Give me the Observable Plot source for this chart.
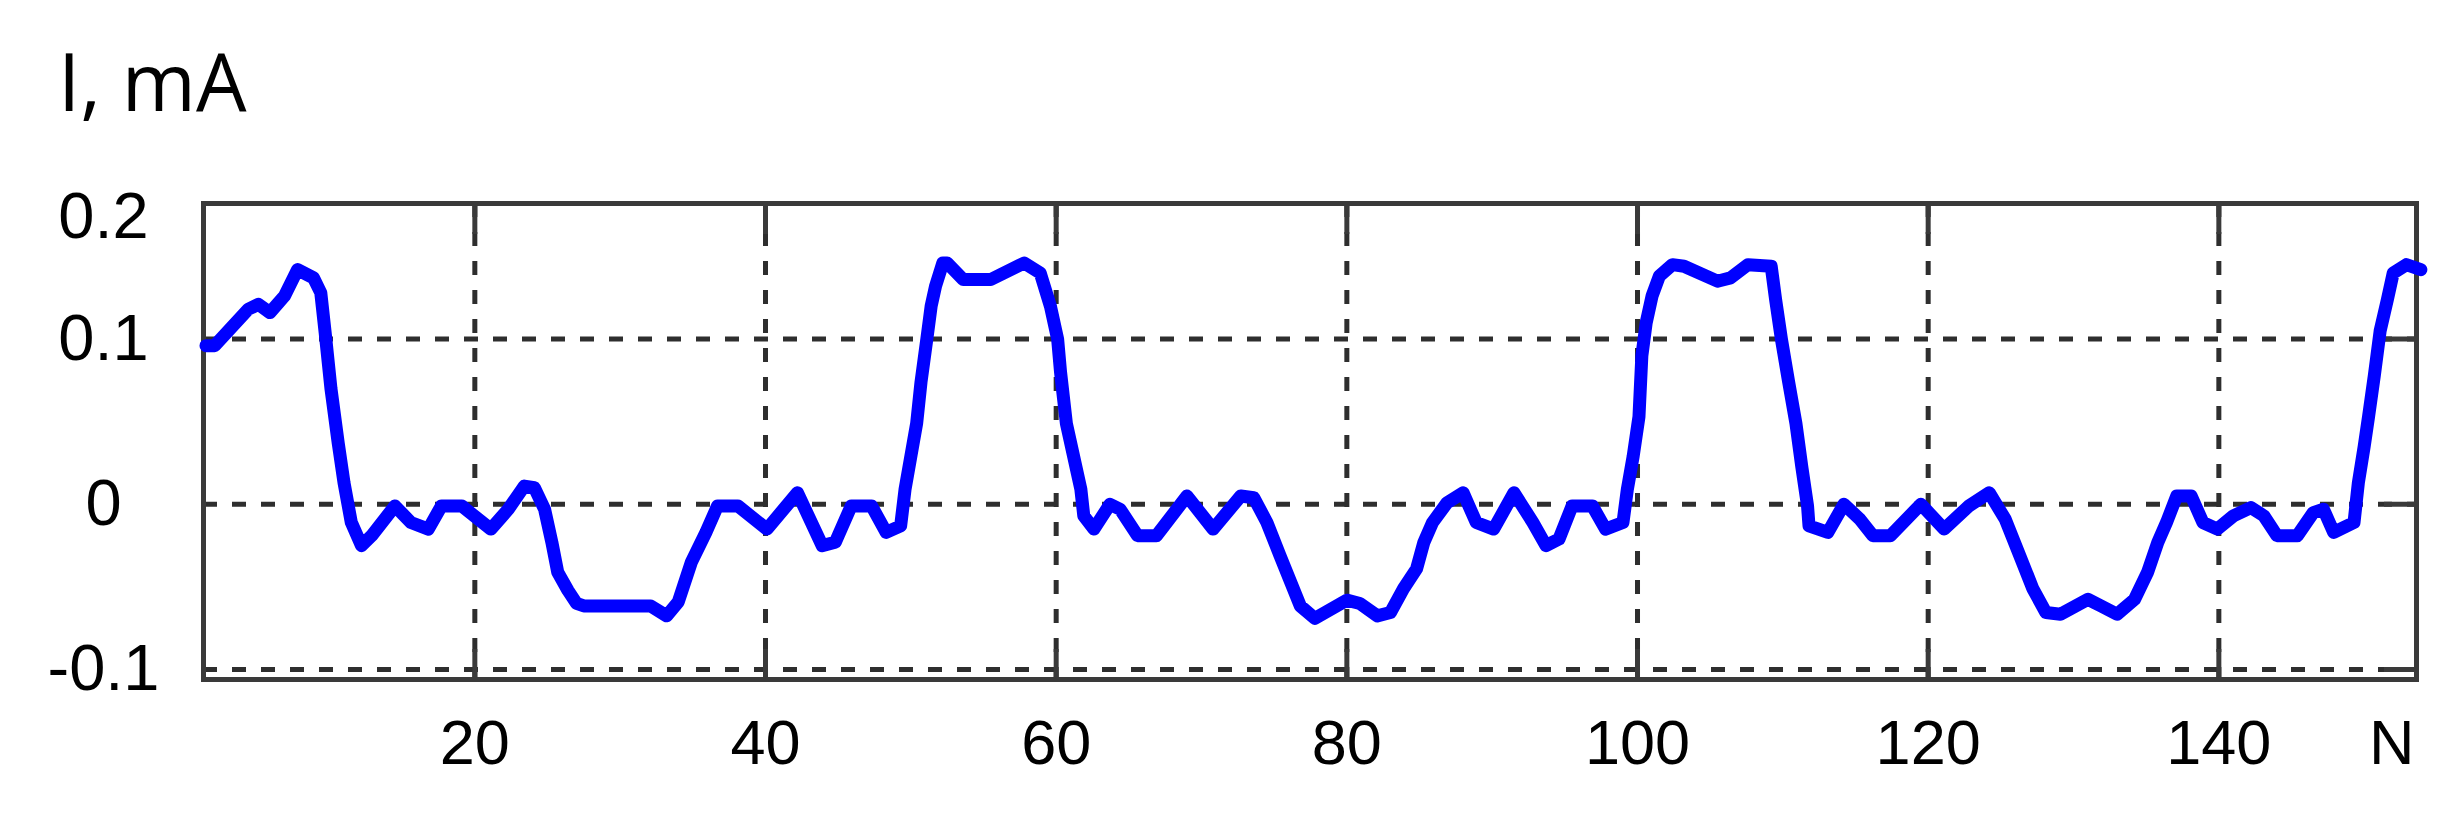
<!DOCTYPE html>
<html>
<head>
<meta charset="utf-8">
<script src="https://cdn.jsdelivr.net/npm/d3@7"></script>
<script src="https://cdn.jsdelivr.net/npm/@observablehq/plot@0.6"></script>
<style>
  html, body { margin: 0; padding: 0; background: white; }
  #wrap { position: relative; width: 2461px; height: 813px; }
  #title { position: absolute; left: 58px; top: 40px; font-family: "Open Sans", sans-serif; font-size: 80px; line-height: 1; color: #000; white-space: nowrap; }
  #chart { position: absolute; left: 0; top: 0; }
</style>
</head>
<body>
<div id="wrap">
  <div id="chart"></div>
  <div id="title">I, mA</div>
</div>
<script>
// Sample number N
const nValues = [
  1.5, 2.1, 4.4, 5.1, 5.9, 6.9, 7.8, 8.9, 9.4, 9.7, 10.1, 10.6, 11.0, 11.5, 12.2, 12.9,
  14.5, 15.6, 16.8, 17.7, 19.1, 21.1, 22.3, 23.4, 24.1, 24.8, 25.3, 25.7, 26.4, 27.0, 27.5,
  32.1, 33.2, 34.0, 34.9, 35.9, 36.7, 38.1, 40.1, 42.2, 43.9, 44.8, 45.9, 47.3, 48.3, 49.3,
  49.6, 50.0, 50.4, 50.7, 51.1, 51.4, 51.7, 52.2, 52.5, 53.6, 55.5, 57.8, 58.9, 59.6, 60.1,
  60.3, 60.7, 61.2, 61.7, 61.9, 62.6, 63.7, 64.4, 65.6, 66.9, 69.0, 70.8, 72.7, 73.6, 74.5,
  75.4, 76.8, 77.8, 80.0, 80.9, 82.1, 83.0, 83.9, 84.8, 85.3, 85.9, 86.9, 88.0, 88.9, 90.1,
  91.5, 92.8, 93.7, 94.6, 95.5, 96.9, 97.8, 99.0, 99.3, 99.7, 100.1, 100.3, 100.6, 101.0,
  101.5, 102.4, 103.2, 105.5, 106.4, 107.6, 109.2, 109.5, 109.9, 110.4, 110.9, 111.3, 111.7,
  111.8, 113.1, 114.2, 115.3, 116.2, 117.4, 119.5, 121.1, 122.8, 124.2, 125.3, 126.3, 127.2,
  128.1, 129.1, 131.0, 131.9, 133.0, 134.2, 135.1, 135.8, 136.4, 137.1, 138.1, 138.9, 139.9,
  141.0, 142.2, 143.1, 144.0, 145.4, 146.5, 147.2, 147.9, 149.3, 149.6, 150.0, 150.3, 150.7,
  151.1, 151.6, 152.0, 152.9, 153.9
];
// Current I, mA
const iValues = [
  0.096, 0.096, 0.118, 0.121, 0.116, 0.126, 0.142, 0.137, 0.128, 0.104, 0.070, 0.037, 0.013, -0.011, -0.025, -0.019,
  -0.001, -0.011, -0.015, -0.001, -0.001, -0.015, -0.003, 0.011, 0.010, -0.003, -0.023, -0.041, -0.052, -0.060, -0.0615,
  -0.0615, -0.0675, -0.059, -0.035, -0.017, -0.001, -0.001, -0.015, 0.007, -0.025, -0.023, -0.001, -0.001, -0.017, -0.013,
  0.009, 0.029, 0.049, 0.074, 0.100, 0.120, 0.132, 0.146, 0.146, 0.136, 0.136, 0.146, 0.140, 0.120, 0.100,
  0.080, 0.049, 0.029, 0.009, -0.007, -0.015, 0.000, -0.003, -0.019, -0.019, 0.005, -0.015, 0.005, 0.004, -0.011,
  -0.031, -0.0615, -0.069, -0.058, -0.060, -0.0675, -0.0655, -0.051, -0.039, -0.023, -0.011, 0.001, 0.007, -0.011, -0.015,
  0.007, -0.011, -0.025, -0.021, -0.001, -0.001, -0.015, -0.011, 0.009, 0.029, 0.053, 0.090, 0.110, 0.126,
  0.138, 0.145, 0.144, 0.135, 0.137, 0.145, 0.144, 0.124, 0.100, 0.074, 0.049, 0.023, -0.001,
  -0.013, -0.017, 0.000, -0.009, -0.019, -0.019, 0.000, -0.015, -0.001, 0.007, -0.009, -0.031, -0.051,
  -0.0655, -0.0665, -0.0575, -0.0615, -0.0665, -0.0575, -0.041, -0.023, -0.011, 0.005, 0.005, -0.011, -0.015,
  -0.007, -0.002, -0.007, -0.019, -0.019, -0.005, -0.003, -0.017, -0.011, 0.013, 0.035, 0.053, 0.078,
  0.105, 0.124, 0.140, 0.145, 0.142
];

const xGridTicks = [20, 40, 60, 80, 100, 120, 140];
const yGridTicks = [-0.1, 0, 0.1];
const xLabelValues = [20, 40, 60, 80, 100, 120, 140, 151.9];
const xLabelTexts = ["20", "40", "60", "80", "100", "120", "140", "N"];
const yLabelValues = [-0.1, 0, 0.1, 0.1735];
const yLabelTexts = ["-0.1", "0", "0.1", "0.2"];

const data = nValues.map((n, i) => ({n, i: iValues[i]}));
const xText = new Map(xLabelValues.map((v, k) => [v, xLabelTexts[k]]));
const yText = new Map(yLabelValues.map((v, k) => [v, yLabelTexts[k]]));

const frameColor = "#3a3a3a";
const gridStyle = {stroke: "#2e2e2e", strokeOpacity: 1, strokeWidth: 5, strokeDasharray: "14,15"};

const chart = Plot.plot({
  width: 2461,
  height: 813,
  marginLeft: 203,
  marginRight: 45,
  marginTop: 203,
  marginBottom: 134,
  style: {fontFamily: "'Liberation Sans', Arial, sans-serif", background: "white", color: "#000", overflow: "visible"},
  x: {domain: [1.33, 153.6], axis: null},
  y: {domain: [-0.106, 0.182], axis: null},
  marks: [
    Plot.gridX(xGridTicks, gridStyle),
    Plot.gridY(yGridTicks, gridStyle),
    Plot.axisX(xGridTicks, {anchor: "top", label: null, tickSize: -30, fill: "none", stroke: frameColor, strokeWidth: 5}),
    Plot.axisX(xGridTicks, {anchor: "bottom", label: null, tickSize: -30, fill: "none", stroke: frameColor, strokeWidth: 5}),
    Plot.axisY(yGridTicks, {anchor: "right", label: null, tickSize: -33, fill: "none", stroke: frameColor, strokeWidth: 5}),
    Plot.axisX(xLabelValues, {anchor: "bottom", label: null, tickSize: 0, tickPadding: 40, fontSize: 63, fill: "#000", tickFormat: d => xText.get(d)}),
    Plot.axisY(yLabelValues, {anchor: "left", label: null, tickSize: 0, tickPadding: 100, fontSize: 65, fill: "#000", textAnchor: "middle", tickFormat: d => yText.get(d)}),
    Plot.frame({stroke: frameColor, strokeWidth: 5}),
    Plot.line(data, {x: "n", y: "i", stroke: "#0000ff", strokeWidth: 13, strokeLinejoin: "round", strokeLinecap: "round"})
  ]
});
document.getElementById("chart").appendChild(chart);
</script>
</body>
</html>
